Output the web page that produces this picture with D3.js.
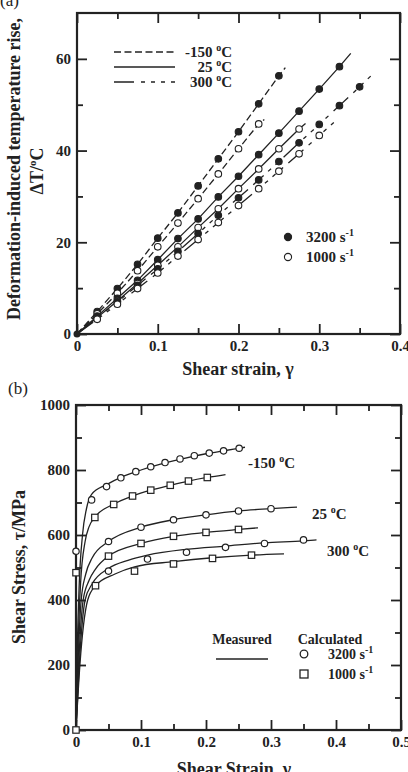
<!DOCTYPE html>
<html>
<head>
<meta charset="utf-8">
<script src="https://cdn.jsdelivr.net/npm/d3@7"></script>
<style>
  body { margin: 0; background: #fff; }
  svg text { font-family: "Liberation Serif", "Times New Roman", serif; font-weight: bold; fill: #222; }
</style>
</head>
<body>
<div class="canvas"></div>
<script>
// ---------- (a) temperature rise vs shear strain ----------
const strainA = [0, 0.025, 0.05, 0.075, 0.1, 0.125, 0.15, 0.175, 0.2, 0.225, 0.25, 0.275, 0.3, 0.325, 0.35];
const dT_m150_3200 = [0, 4.9, 9.9, 15.2, 20.9, 26.4, 32.3, 38.2, 44.1, 50.2, 56.3];
const dT_m150_1000 = [0, 4.4, 8.9, 13.8, 19.0, 24.2, 29.5, 34.9, 40.4, 45.8];
const dT_25_3200   = [0, 3.9, 7.8, 11.7, 16.2, 20.8, 25.1, 29.9, 34.4, 39.1, 43.8, 48.6, 53.4, 58.3];
const dT_25_1000   = [0, 3.6, 7.2, 11.0, 15.0, 19.0, 23.2, 27.3, 31.7, 36.0, 40.4, 44.7];
const dT_300_3200  = [0, 3.5, 7.0, 10.6, 14.2, 18.0, 21.9, 25.9, 29.7, 33.6, 37.6, 41.7, 45.7, 49.8, 53.9];
const dT_300_1000  = [0, 3.2, 6.5, 9.9, 13.3, 17.0, 20.6, 24.3, 28.0, 31.7, 35.5, 39.3, 43.3];
// where each fitted line stops [strain, dT]
const lineEndsA = [[0.258, 58.1], [0.232, 46.8], [0.339, 61.2], [0.283, 45.9], [0.367, 56.8], [0.318, 46.1]];
const tempLabels = ['-150', '25', '300'];
const rateLabels = ['3200', '1000'];

// ---------- (b) shear stress vs shear strain ----------
// measured curves
const cx_m150_3200 = [0, 0.002, 0.005, 0.01, 0.016, 0.024, 0.047, 0.07, 0.1, 0.13, 0.16, 0.2, 0.23, 0.26];
const cy_m150_3200 = [0, 250, 450, 600, 680, 725, 755, 778, 800, 818, 833, 850, 860, 870];
const cx_m150_1000 = [0, 0.003, 0.007, 0.014, 0.02, 0.029, 0.058, 0.087, 0.115, 0.145, 0.173, 0.202, 0.23];
const cy_m150_1000 = [0, 250, 450, 580, 625, 655, 695, 720, 738, 753, 766, 777, 786];
const cx_25_3200 = [0, 0.003, 0.008, 0.015, 0.025, 0.05, 0.1, 0.15, 0.2, 0.25, 0.3, 0.34];
const cy_25_3200 = [0, 200, 400, 480, 530, 580, 624, 647, 662, 674, 681, 686];
const cx_25_1000 = [0, 0.004, 0.011, 0.02, 0.03, 0.05, 0.1, 0.15, 0.2, 0.25, 0.28];
const cy_25_1000 = [0, 200, 400, 460, 495, 535, 574, 596, 608, 617, 622];
const cx_300_3200 = [0, 0.005, 0.014, 0.025, 0.05, 0.08, 0.11, 0.17, 0.23, 0.29, 0.35, 0.37];
const cy_300_3200 = [0, 200, 400, 450, 497, 522, 538, 556, 566, 576, 582, 585];
const cx_300_1000 = [0, 0.006, 0.018, 0.03, 0.06, 0.09, 0.15, 0.21, 0.27, 0.32];
const cy_300_1000 = [0, 200, 400, 444, 480, 502, 518, 530, 538, 542];
// calculated points
const px_m150_3200 = [0.024, 0.047, 0.069, 0.092, 0.115, 0.137, 0.16, 0.182, 0.205, 0.227, 0.251];
const py_m150_3200 = [708, 749, 776, 795, 810, 823, 834, 844, 852, 859, 867];
const px_m150_1000 = [0, 0.029, 0.058, 0.087, 0.115, 0.145, 0.173, 0.202];
const py_m150_1000 = [0, 654, 694, 720, 738, 753, 766, 777];
const px_25_3200 = [0, 0.05, 0.1, 0.15, 0.2, 0.25, 0.3];
const py_25_3200 = [550, 580, 624, 647, 662, 674, 681];
const px_25_1000 = [0, 0.05, 0.1, 0.15, 0.2, 0.25];
const py_25_1000 = [484, 535, 574, 596, 608, 617];
const px_300_3200 = [0.05, 0.11, 0.17, 0.23, 0.29, 0.35];
const py_300_3200 = [489, 526, 547, 562, 574, 585];
const px_300_1000 = [0.03, 0.09, 0.15, 0.21, 0.27];
const py_300_1000 = [444, 489, 511, 528, 538];

const ink = '#222';
const zip = (xs, ys) => ys.map((v, i) => [xs[i], v]);

const svg = d3.select('.canvas').append('svg')
  .attr('width', 408).attr('height', 772);

// draws the boxed frame with inward ticks on all four sides
function frame(g, x, y, w, h, xMajor, xMinor, yMajor, yMinor, xFmt) {
  const sides = [
    [d3.axisBottom(x), `translate(0,${h})`, xMajor, xMinor, true, xFmt],
    [d3.axisTop(x), 'translate(0,0)', xMajor, xMinor, false],
    [d3.axisLeft(y), 'translate(0,0)', yMajor, yMinor, true, d3.format('d')],
    [d3.axisRight(y), `translate(${w},0)`, yMajor, yMinor, false]
  ];
  sides.forEach(([ax, tr, major, minor, labels, fmt]) => {
    g.append('g').attr('transform', tr)
      .call(ax.tickValues(minor).tickSize(-6).tickSizeOuter(0).tickFormat(''))
      .call(s => s.select('.domain').remove())
      .selectAll('line').attr('stroke', ink).attr('stroke-width', 1.8);
    const a = g.append('g').attr('transform', tr)
      .call(ax.tickValues(major).tickSize(-10).tickSizeOuter(0).tickPadding(labels ? 6 : 0)
        .tickFormat(labels ? fmt : ''))
      .call(s => s.select('.domain').remove());
    a.attr('font-family', null).attr('font-size', null);
    a.selectAll('line').attr('stroke', ink).attr('stroke-width', 1.8);
    a.selectAll('text').style('font-size', '15px').attr('fill', ink);
  });
  g.append('rect').attr('width', w).attr('height', h)
    .attr('fill', 'none').attr('stroke', ink).attr('stroke-width', 2.2);
}

function tempText(sel, t) {
  sel.text(t + ' ');
  sel.append('tspan').attr('dy', -6).style('font-size', '10px').text('o');
  sel.append('tspan').attr('dy', 6).text('C');
}
function rateText(sel, r) {
  sel.text(r + ' s');
  sel.append('tspan').attr('dy', -6).style('font-size', '10px').text('-1');
}

// ================= panel (a) =================
const A = { left: 77, top: 13, w: 323, h: 321 };
const xa = d3.scaleLinear().domain([0, 0.4]).range([0, A.w]);
const ya = d3.scaleLinear().domain([0, 70]).range([A.h, 0]);
const ga = svg.append('g').attr('transform', `translate(${A.left},${A.top})`);

frame(ga, xa, ya, A.w, A.h,
  [0, 0.1, 0.2, 0.3, 0.4], [0.05, 0.15, 0.25, 0.35],
  [0, 20, 40, 60], [10, 30, 50],
  d => d === 0 ? '0' : d3.format('.1f')(d));

const dashes = ['7,3.5', null, '20,7,4,6,4,6,4,6,4,7'];
const seriesA = [
  { v: dT_m150_3200, end: lineEndsA[0], dash: dashes[0], filled: true },
  { v: dT_m150_1000, end: lineEndsA[1], dash: dashes[0], filled: false },
  { v: dT_25_3200, end: lineEndsA[2], dash: dashes[1], filled: true },
  { v: dT_25_1000, end: lineEndsA[3], dash: dashes[1], filled: false },
  { v: dT_300_3200, end: lineEndsA[4], dash: dashes[2], filled: true },
  { v: dT_300_1000, end: lineEndsA[5], dash: dashes[2], filled: false }
];
const lineA = d3.line().x(d => xa(d[0])).y(d => ya(d[1]));

seriesA.forEach(s => {
  const pts = zip(strainA, s.v);
  ga.append('path').datum(pts.concat([s.end]))
    .attr('d', lineA).attr('fill', 'none').attr('stroke', ink)
    .attr('stroke-width', 1.3).attr('stroke-dasharray', s.dash);
});
seriesA.forEach(s => {
  ga.selectAll(null).data(zip(strainA, s.v).slice(1)).enter().append('circle')
    .attr('cx', d => xa(d[0])).attr('cy', d => ya(d[1])).attr('r', 3.3)
    .attr('fill', s.filled ? ink : '#fff').attr('stroke', ink).attr('stroke-width', 1.1);
});
ga.append('circle').attr('cx', xa(0)).attr('cy', ya(0)).attr('r', 3.5).attr('fill', ink);

// legend: temperatures
tempLabels.forEach((t, i) => {
  const yy = 39 + i * 15;
  ga.append('line').attr('x1', 37).attr('x2', 98).attr('y1', yy).attr('y2', yy)
    .attr('stroke', ink).attr('stroke-width', 1.3).attr('stroke-dasharray', dashes[i]);
  ga.append('text').attr('x', 155).attr('y', yy + 5).attr('text-anchor', 'end')
    .style('font-size', '15px').call(tempText, t);
});
// legend: strain rates
rateLabels.forEach((r, i) => {
  const yy = 224 + i * 20;
  ga.append('circle').attr('cx', 211).attr('cy', yy).attr('r', 3.6)
    .attr('fill', i === 0 ? ink : '#fff').attr('stroke', ink).attr('stroke-width', 1.1);
  ga.append('text').attr('x', 229).attr('y', yy + 5).style('font-size', '15px').call(rateText, r);
});

svg.append('text').attr('x', 238).attr('y', 375).attr('text-anchor', 'middle')
  .style('font-size', '18px').text('Shear strain, \u03b3');
svg.append('text').attr('transform', 'translate(20,169) rotate(-90)').attr('text-anchor', 'middle')
  .style('font-size', '18px').text('Deformation-induced temperature rise,');
svg.append('text').attr('transform', 'translate(43,171) rotate(-90)').attr('text-anchor', 'middle')
  .style('font-size', '18px').call(sel => {
    sel.text('\u0394T/');
    sel.append('tspan').attr('dy', -7).style('font-size', '11px').text('o');
    sel.append('tspan').attr('dy', 7).text('C');
  });
svg.append('text').attr('x', 0).attr('y', 6).style('font-weight', 'normal')
  .style('font-size', '17px').text('(a)');

// ================= panel (b) =================
const B = { left: 76, top: 405, w: 325, h: 325 };
const xb = d3.scaleLinear().domain([0, 0.5]).range([0, B.w]);
const yb = d3.scaleLinear().domain([0, 1000]).range([B.h, 0]);
const gb = svg.append('g').attr('transform', `translate(${B.left},${B.top})`);

frame(gb, xb, yb, B.w, B.h,
  [0, 0.1, 0.2, 0.3, 0.4, 0.5], [0.05, 0.15, 0.25, 0.35, 0.45],
  [0, 200, 400, 600, 800, 1000], [100, 300, 500, 700, 900],
  d => d === 0 ? '0' : d3.format('.1f')(d));

const curvesB = [
  zip(cx_m150_3200, cy_m150_3200), zip(cx_m150_1000, cy_m150_1000),
  zip(cx_25_3200, cy_25_3200), zip(cx_25_1000, cy_25_1000),
  zip(cx_300_3200, cy_300_3200), zip(cx_300_1000, cy_300_1000)
];
const lineB = d3.line().x(d => xb(d[0])).y(d => yb(d[1])).curve(d3.curveMonotoneX);
curvesB.forEach(c => {
  gb.append('path').datum(c).attr('d', lineB).attr('fill', 'none')
    .attr('stroke', ink).attr('stroke-width', 1.3);
});

const circlesB = [zip(px_m150_3200, py_m150_3200), zip(px_25_3200, py_25_3200), zip(px_300_3200, py_300_3200)];
const squaresB = [zip(px_m150_1000, py_m150_1000), zip(px_25_1000, py_25_1000), zip(px_300_1000, py_300_1000)];
circlesB.forEach(c => {
  gb.selectAll(null).data(c).enter().append('circle')
    .attr('cx', d => xb(d[0])).attr('cy', d => yb(d[1])).attr('r', 3.2)
    .attr('fill', '#fff').attr('stroke', ink).attr('stroke-width', 1.2);
});
squaresB.forEach(c => {
  gb.selectAll(null).data(c).enter().append('rect')
    .attr('x', d => xb(d[0]) - 3.2).attr('y', d => yb(d[1]) - 3.2)
    .attr('width', 6.4).attr('height', 6.4)
    .attr('fill', '#fff').attr('stroke', ink).attr('stroke-width', 1.2);
});

// temperature labels beside the curves
[[172, 63], [236, 114], [251, 151]].forEach(([lx, ly], i) => {
  gb.append('text').attr('x', lx).attr('y', ly).style('font-size', '15px').call(tempText, tempLabels[i]);
});

// legend
gb.append('text').attr('x', 166).attr('y', 239).attr('text-anchor', 'middle')
  .style('font-size', '14px').text('Measured');
gb.append('line').attr('x1', 140).attr('x2', 192).attr('y1', 254).attr('y2', 254)
  .attr('stroke', ink).attr('stroke-width', 1.3);
gb.append('text').attr('x', 254).attr('y', 239).attr('text-anchor', 'middle')
  .style('font-size', '14px').text('Calculated');
gb.append('circle').attr('cx', 228).attr('cy', 249).attr('r', 3.8)
  .attr('fill', '#fff').attr('stroke', ink).attr('stroke-width', 1.3);
gb.append('rect').attr('x', 224).attr('y', 265).attr('width', 8).attr('height', 8)
  .attr('fill', '#fff').attr('stroke', ink).attr('stroke-width', 1.3);
rateLabels.forEach((r, i) => {
  gb.append('text').attr('x', 252).attr('y', 254 + i * 20).style('font-size', '14px').call(rateText, r);
});

svg.append('text').attr('x', 234).attr('y', 775).attr('text-anchor', 'middle')
  .style('font-size', '18px').text('Shear Strain, \u03b3');
svg.append('text').attr('transform', 'translate(25,567) rotate(-90)').attr('text-anchor', 'middle')
  .style('font-size', '18px').text('Shear Stress, \u03c4/MPa');
svg.append('text').attr('x', 8).attr('y', 394).style('font-weight', 'normal')
  .style('font-size', '17px').text('(b)');
</script>
</body>
</html>
